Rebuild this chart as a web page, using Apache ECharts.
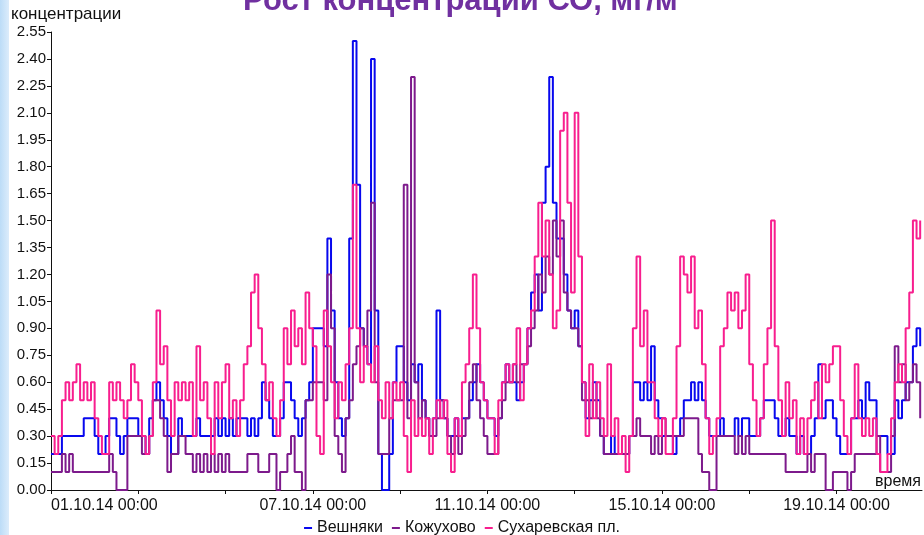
<!DOCTYPE html>
<html>
<head>
<meta charset="utf-8">
<script src="https://cdn.jsdelivr.net/npm/echarts@6/dist/echarts.min.js"></script>
<style>
html,body{margin:0;padding:0;background:#fff;}
#c{width:924px;height:535px;}
</style>
</head>
<body>
<div id="c"></div>
<script>
// time step between readings, hours (series start 01.10.14 00:00)
const STEP_HOURS = 2;
const seriesNames = ['Вешняки', 'Кожухово', 'Сухаревская пл.'];
const xLabelHours = [0, 144, 240, 336, 432];
const xLabelTexts = ['01.10.14 00:00', '07.10.14 00:00', '11.10.14 00:00', '15.10.14 00:00', '19.10.14 00:00'];

const veshnyaki = [
0.2,0.2,0.2,0.3,0.3,0.3,0.3,0.3,0.3,0.4,
0.4,0.4,0.3,0.2,0.2,0.3,0.4,0.4,0.3,0.2,
0.3,0.4,0.4,0.4,0.3,0.3,0.2,0.4,0.5,0.6,
0.5,0.4,0.3,0.2,0.2,0.4,0.3,0.3,0.3,0.3,
0.4,0.3,0.3,0.3,0.3,0.4,0.3,0.4,0.3,0.4,
0.3,0.4,0.4,0.4,0.3,0.4,0.3,0.4,0.6,0.5,
0.4,0.3,0.3,0.4,0.6,0.6,0.5,0.4,0.3,0.4,
0.5,0.6,0.9,0.9,0.9,0.8,1.4,1.0,0.6,0.4,
0.3,0.4,1.4,2.5,1.7,0.9,0.8,0.7,2.4,1.0,
0.2,0.0,0.0,0.2,0.6,0.8,0.8,0.6,0.5,0.7,
0.6,0.7,0.5,0.4,0.3,0.4,1.0,0.5,0.4,0.3,
0.3,0.4,0.3,0.4,0.4,0.5,0.6,0.7,0.6,0.5,
0.4,0.4,0.3,0.4,0.6,0.7,0.6,0.6,0.5,0.6,
0.7,0.9,1.1,1.2,1.0,1.6,1.8,2.3,1.6,1.4,
1.4,1.2,1.0,0.9,1.0,0.8,0.6,0.4,0.5,0.6,
0.5,0.3,0.2,0.2,0.3,0.2,0.2,0.2,0.2,0.3,
0.6,0.6,0.5,0.6,0.5,0.8,0.5,0.4,0.3,0.3,
0.3,0.2,0.3,0.4,0.5,0.5,0.6,0.5,0.6,0.5,
0.4,0.3,0.3,0.3,0.4,0.3,0.3,0.3,0.4,0.3,
0.4,0.4,0.3,0.3,0.3,0.4,0.5,0.5,0.5,0.4,
0.3,0.3,0.4,0.3,0.3,0.2,0.3,0.2,0.2,0.3,
0.4,0.7,0.4,0.5,0.5,0.4,0.3,0.2,0.2,0.2,
0.4,0.4,0.5,0.4,0.6,0.5,0.5,0.3,0.3,0.3,
0.2,0.2,0.5,0.4,0.5,0.6,0.6,0.8,0.9,0.8
];

const kozhukhovo = [
0.1,0.1,0.1,0.2,0.1,0.2,0.1,0.1,0.1,0.1,
0.1,0.1,0.1,0.1,0.1,0.1,0.2,0.1,0.0,0.0,
0.0,0.3,0.3,0.3,0.3,0.2,0.2,0.3,0.5,0.5,
0.4,0.3,0.1,0.2,0.2,0.3,0.3,0.2,0.2,0.1,
0.2,0.1,0.2,0.1,0.2,0.1,0.2,0.1,0.2,0.1,
0.1,0.1,0.1,0.1,0.2,0.2,0.2,0.1,0.1,0.1,
0.2,0.2,0.0,0.1,0.1,0.2,0.3,0.1,0.1,0.0,
0.5,0.5,0.6,0.6,0.6,0.5,1.2,0.9,0.3,0.2,
0.1,0.4,0.5,0.7,0.8,0.9,0.8,1.0,1.6,0.6,
0.2,0.2,0.2,0.4,0.5,0.5,0.5,1.7,0.4,2.3,
0.6,0.4,0.5,0.4,0.3,0.3,0.4,0.5,0.4,0.3,
0.2,0.3,0.2,0.3,0.4,0.6,0.7,0.5,0.4,0.3,
0.2,0.2,0.2,0.4,0.5,0.6,0.6,0.7,0.6,0.7,
0.7,0.8,0.9,1.0,1.2,1.1,1.3,1.2,1.5,1.3,
1.5,1.1,1.0,0.9,0.9,0.8,0.5,0.5,0.4,0.5,
0.4,0.3,0.2,0.2,0.2,0.2,0.2,0.2,0.2,0.3,
0.3,0.4,0.3,0.3,0.3,0.2,0.3,0.2,0.4,0.3,
0.3,0.3,0.3,0.3,0.4,0.4,0.4,0.4,0.2,0.1,
0.1,0.0,0.0,0.3,0.3,0.3,0.3,0.3,0.2,0.3,
0.2,0.3,0.2,0.2,0.2,0.2,0.2,0.2,0.2,0.2,
0.2,0.2,0.1,0.1,0.1,0.1,0.1,0.1,0.2,0.1,
0.2,0.2,0.2,0.0,0.0,0.1,0.1,0.1,0.1,0.0,
0.1,0.2,0.2,0.2,0.2,0.2,0.2,0.3,0.1,0.1,
0.1,0.3,0.8,0.6,0.7,0.5,0.6,0.7,0.6,0.4
];

const sukharevskaya = [
0.3,0.2,0.3,0.5,0.6,0.5,0.6,0.7,0.5,0.6,
0.5,0.6,0.4,0.3,0.2,0.2,0.6,0.5,0.6,0.5,
0.4,0.5,0.7,0.6,0.5,0.3,0.2,0.3,0.6,1.0,
0.7,0.8,0.5,0.3,0.6,0.5,0.6,0.5,0.6,0.3,
0.8,0.5,0.6,0.4,0.2,0.6,0.4,0.6,0.7,0.4,
0.5,0.3,0.5,0.7,0.8,1.1,1.2,0.9,0.7,0.5,
0.6,0.4,0.3,0.5,0.9,0.7,1.0,0.8,0.9,0.7,
1.1,0.9,0.8,0.3,0.2,1.0,0.8,0.6,0.4,0.6,
0.5,0.7,0.9,1.7,0.9,0.6,0.8,0.7,0.6,0.8,
0.5,0.4,0.6,0.4,0.6,0.5,0.6,0.3,0.1,0.5,
0.3,0.4,0.3,0.4,0.2,0.4,0.5,0.4,0.5,0.2,
0.1,0.4,0.3,0.6,0.7,0.9,1.2,0.9,0.6,0.5,
0.4,0.4,0.2,0.5,0.6,0.7,0.6,0.7,0.9,0.5,
0.7,0.9,1.0,1.3,1.6,1.3,1.5,1.2,0.9,1.0,
2.0,2.1,1.6,1.1,2.1,1.3,0.6,0.3,0.7,0.4,
0.6,0.4,0.3,0.7,0.3,0.4,0.2,0.3,0.1,0.3,
0.9,1.3,0.8,1.0,0.6,0.6,0.4,0.3,0.4,0.2,
0.2,0.4,0.8,1.3,1.2,1.1,1.3,0.9,1.0,0.7,
0.4,0.2,0.3,0.4,0.8,0.9,1.1,1.0,1.1,0.9,
1.0,1.2,0.7,0.5,0.3,0.4,0.7,0.9,1.5,0.8,
0.5,0.3,0.6,0.4,0.5,0.2,0.4,0.2,0.4,0.5,
0.6,0.4,0.7,0.6,0.7,0.8,0.8,0.5,0.3,0.2,
0.4,0.7,0.4,0.3,0.4,0.3,0.4,0.2,0.1,0.1,
0.2,0.4,0.6,0.7,0.6,0.9,1.1,1.5,1.4,1.5
];

const colors = ['#0808ee', '#7d1a8c', '#f81e8e'];
const FONT = 'Arial, "Liberation Sans", sans-serif';

function toXY(arr) { return arr.map((v, i) => [i * STEP_HOURS, v]); }

const chart = echarts.init(document.getElementById('c'), null, {renderer: 'canvas'});
chart.setOption({
  animation: false,
  backgroundColor: '#ffffff',
  graphic: [
    { type: 'rect', left: 0, top: 0, shape: { width: 9, height: 535 },
      style: { fill: new echarts.graphic.LinearGradient(0, 0, 1, 0, [{offset: 0, color: '#bcdcf7'}, {offset: 1, color: '#dcecfb'}]) }, z: 0 },
    { type: 'text', x: 243, y: 1, z: 10,
      style: { text: 'Рост концентрации СО, мг/м³', font: 'bold 31px ' + FONT, fill: '#7030a0',
               textAlign: 'left', textVerticalAlign: 'middle', align: 'left', verticalAlign: 'middle' } },
    { type: 'text', x: 11, y: 14, z: 10,
      style: { text: 'концентрации', font: '17px ' + FONT, fill: '#111',
               textAlign: 'left', textVerticalAlign: 'middle', align: 'left', verticalAlign: 'middle' } }
  ],
  grid: { left: 51, right: 0, top: 32, bottom: 45, containLabel: false },
  legend: {
    data: seriesNames,
    top: 515, left: 'center',
    icon: 'rect', itemWidth: 8, itemHeight: 2, itemGap: 9,
    textStyle: { fontFamily: FONT, fontSize: 16, color: '#111' }
  },
  xAxis: {
    type: 'value', min: 0, max: 479, interval: 48,
    name: 'время', nameLocation: 'end', nameGap: -1,
    nameTextStyle: { fontFamily: FONT, fontSize: 16, color: '#111', align: 'right', verticalAlign: 'bottom', padding: [0, 0, 0, 0] },
    axisLine: { show: true, lineStyle: { color: '#111', width: 1 } },
    axisTick: { show: true, inside: false, length: 4, lineStyle: { color: '#111' } },
    splitLine: { show: false },
    axisLabel: {
      margin: 8, fontFamily: FONT, fontSize: 16, color: '#111',
      showMaxLabel: false, alignMinLabel: 'left',
      formatter: function (v) {
        const k = xLabelHours.indexOf(Math.round(v));
        return k >= 0 ? xLabelTexts[k] : '';
      }
    }
  },
  yAxis: {
    type: 'value', min: 0, max: 2.55, interval: 0.15,
    axisLine: { show: true, lineStyle: { color: '#111', width: 1 } },
    axisTick: { show: true, inside: false, length: 4, lineStyle: { color: '#111' } },
    splitLine: { show: false },
    axisLabel: {
      margin: 5, fontFamily: FONT, fontSize: 15, color: '#111',
      formatter: function (v) { return v.toFixed(2); }
    }
  },
  series: [
    { name: seriesNames[0], type: 'line', step: 'end', data: toXY(veshnyaki), showSymbol: false,
      color: colors[0], lineStyle: { width: 2, color: colors[0] }, z: 2 },
    { name: seriesNames[1], type: 'line', step: 'end', data: toXY(kozhukhovo), showSymbol: false,
      color: colors[1], lineStyle: { width: 2, color: colors[1] }, z: 3 },
    { name: seriesNames[2], type: 'line', step: 'end', data: toXY(sukharevskaya), showSymbol: false,
      color: colors[2], lineStyle: { width: 2, color: colors[2] }, z: 4 }
  ]
});
</script>
</body>
</html>
